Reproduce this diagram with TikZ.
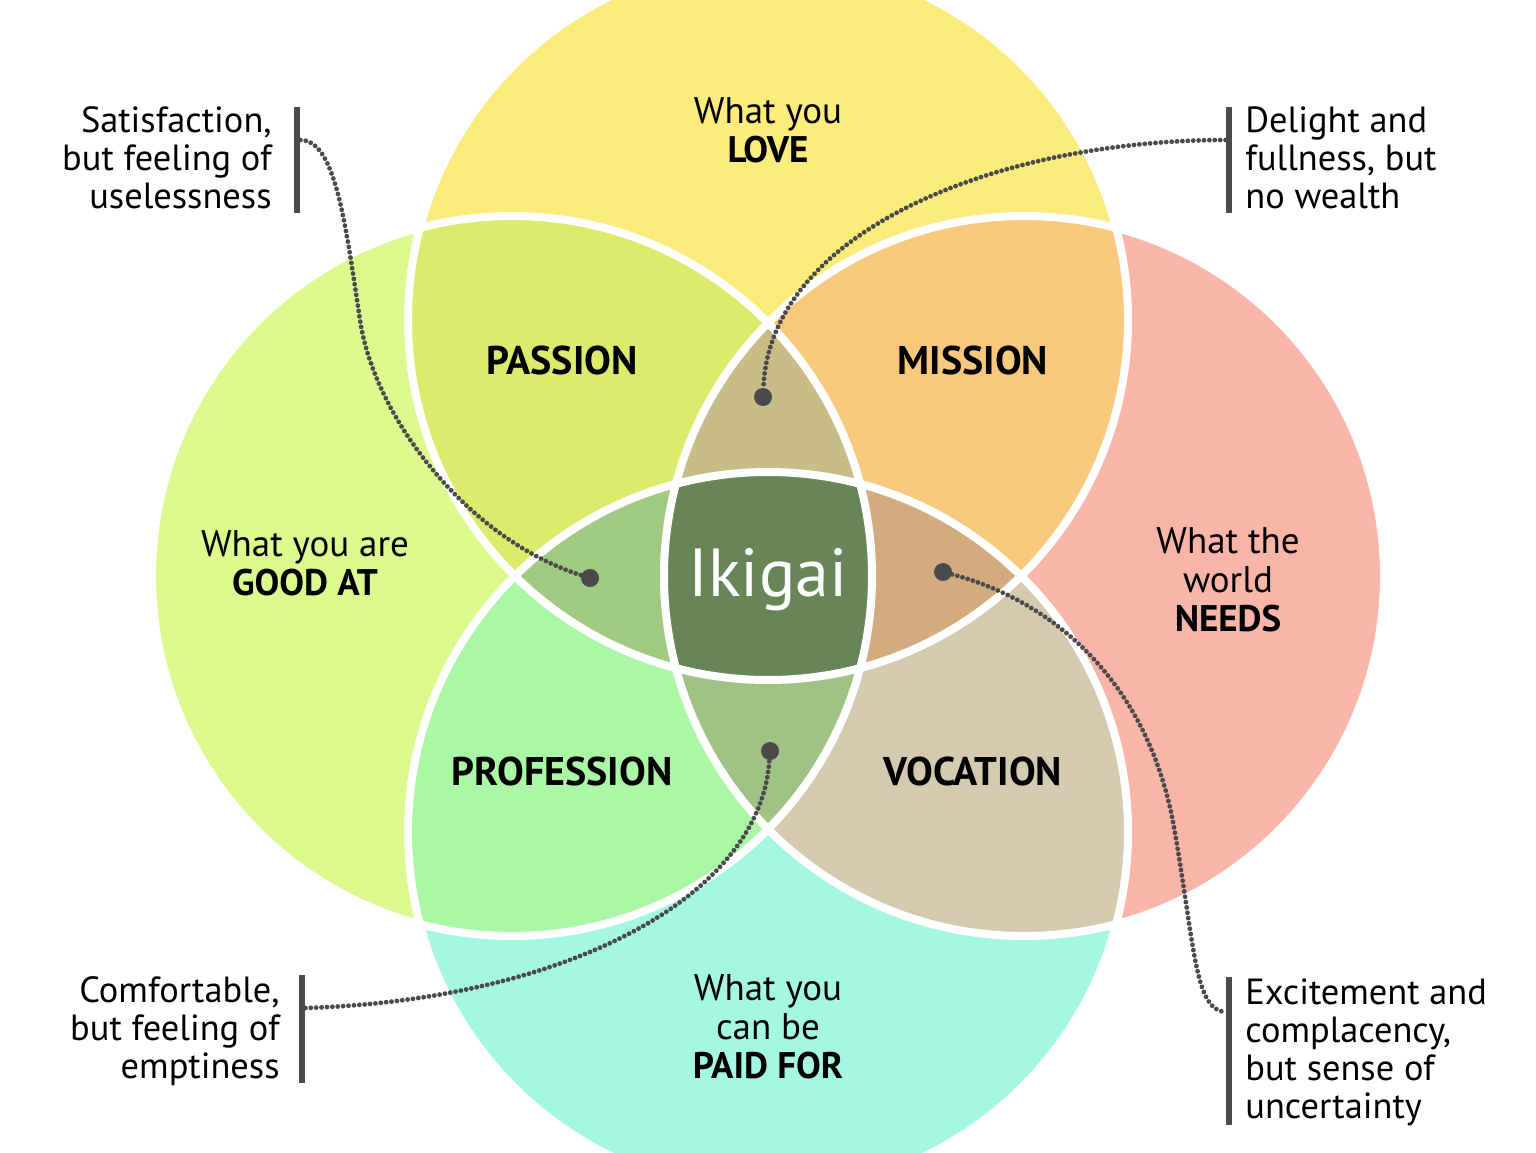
\documentclass[tikz,border=0pt]{standalone}
\usepackage{fontspec}
\setmainfont{PT Sans}

\definecolor{ctop}{HTML}{FCEC7C}
\definecolor{cleft}{HTML}{DCFA8E}
\definecolor{cright}{HTML}{F9B5A7}
\definecolor{cbot}{HTML}{A4F8E2}
\definecolor{cpassion}{HTML}{DBEC6C}
\definecolor{cmission}{HTML}{F8C97C}
\definecolor{cprofession}{HTML}{AAF8A5}
\definecolor{cvocation}{HTML}{D4CAB0}
\definecolor{ctlr}{HTML}{C8BD86}
\definecolor{ctlb}{HTML}{A1CA83}
\definecolor{ctrb}{HTML}{D2AC7E}
\definecolor{clrb}{HTML}{A0C285}
\definecolor{cikigai}{HTML}{688558}
\definecolor{barc}{HTML}{4A4A4A}

\newcommand{\topcirc}{(768,320) circle[radius=180pt]}
\newcommand{\leftcirc}{(512,576) circle[radius=180pt]}
\newcommand{\rightcirc}{(1024,576) circle[radius=180pt]}
\newcommand{\botcirc}{(768,832) circle[radius=180pt]}

\begin{document}
\begin{tikzpicture}[x=0.5pt, y=-0.5pt,
    ring/.style={draw=white, line width=4pt},
    circtext/.style={font=\fontsize{18.5}{19.5}\selectfont, align=center, inner sep=0pt},
    zone/.style={font=\fontsize{20}{22}\selectfont\bfseries, inner sep=0pt},
    sidenote/.style={font=\fontsize{18.2}{19}\selectfont, inner sep=0pt},
    bar/.style={fill=barc, minimum width=3pt, inner sep=0pt},
    spot/.style={circle, fill=barc, minimum size=9pt, inner sep=0pt},
    beads/.style={draw=barc, line width=2.4pt, line cap=round, dash pattern=on 0pt off 2.7pt}]
    \clip (0,0) rectangle (1536,1152);
    \fill[white] (0,0) rectangle (1536,1152);

    \fill[ctop] \topcirc;
    \fill[cleft] \leftcirc;
    \fill[cright] \rightcirc;
    \fill[cbot] \botcirc;
    \begin{scope}
        \clip \topcirc;
        \fill[cpassion] \leftcirc;
        \fill[cmission] \rightcirc;
    \end{scope}
    \begin{scope}
        \clip \botcirc;
        \fill[cprofession] \leftcirc;
        \fill[cvocation] \rightcirc;
    \end{scope}
    \begin{scope}
        \clip \topcirc;
        \clip \leftcirc;
        \fill[ctlr] \rightcirc;
        \fill[ctlb] \botcirc;
    \end{scope}
    \begin{scope}
        \clip \botcirc;
        \clip \rightcirc;
        \fill[ctrb] \topcirc;
        \fill[clrb] \leftcirc;
    \end{scope}
    \begin{scope}
        \clip \topcirc;
        \clip \leftcirc;
        \clip \rightcirc;
        \fill[cikigai] \botcirc;
    \end{scope}
    \draw[ring] \topcirc \leftcirc \rightcirc \botcirc;

    \node[circtext] (love) at (768,130) {What you\\\textbf{LOVE}};
    \node[circtext] (goodat) at (305,563) {What you are\\\textbf{GOOD AT}};
    \node[circtext] (needs) at (1228,580) {What the\\world\\\textbf{NEEDS}};
    \node[circtext] (paid) at (768,1027) {What you\\can be\\\textbf{PAID FOR}};

    \node[zone] (passion) at (562,360) {PASSION};
    \node[zone] (mission) at (973,360) {MISSION};
    \node[zone] (profession) at (562,771) {PROFESSION};
    \node[zone] (vocation) at (973,771) {VOCATION};
    \node[font=\fontsize{34}{38}\selectfont, text=white, inner sep=0pt] (ikigai) at (768,580) {Ikigai};

    \node[sidenote, align=right, anchor=north east] (n1) at (272,106) {Satisfaction,\\but feeling of\\uselessness};
    \node[sidenote, align=left, anchor=north west] (n2) at (1245,106) {Delight and\\fullness, but\\no wealth};
    \node[sidenote, align=right, anchor=north east] (n3) at (280,976) {Comfortable,\\but feeling of\\emptiness};
    \node[sidenote, align=left, anchor=north west] (n4) at (1245,978) {Excitement and\\complacency,\\but sense of\\uncertainty};

    \node[bar, minimum height=53pt] (b1) at (297,160) {};
    \node[bar, minimum height=53pt] (b2) at (1229,160) {};
    \node[bar, minimum height=54pt] (b3) at (302,1029) {};
    \node[bar, minimum height=74pt] (b4) at (1229,1051) {};

    \node[spot] (d1) at (590,578) {};
    \node[spot] (d2) at (763,397) {};
    \node[spot] (d3) at (770,751) {};
    \node[spot] (d4) at (943,572) {};

    \draw[beads] (b1.east |- 0,140) .. controls (335,140) and (345,220) .. (360,320) .. controls (375,420) and (470,540) .. (d1);
    \draw[beads] (b2.west |- 0,140) .. controls (1000,140) and (770,230) .. (d2);
    \draw[beads] (b3.east |- 0,1008) .. controls (560,1000) and (760,900) .. (d3);
    \draw[beads] (d4) .. controls (1050,600) and (1150,680) .. (1175,833) .. controls (1195,950) and (1195,1010) .. (b4.west |- 0,1012);
\end{tikzpicture}
\end{document}
